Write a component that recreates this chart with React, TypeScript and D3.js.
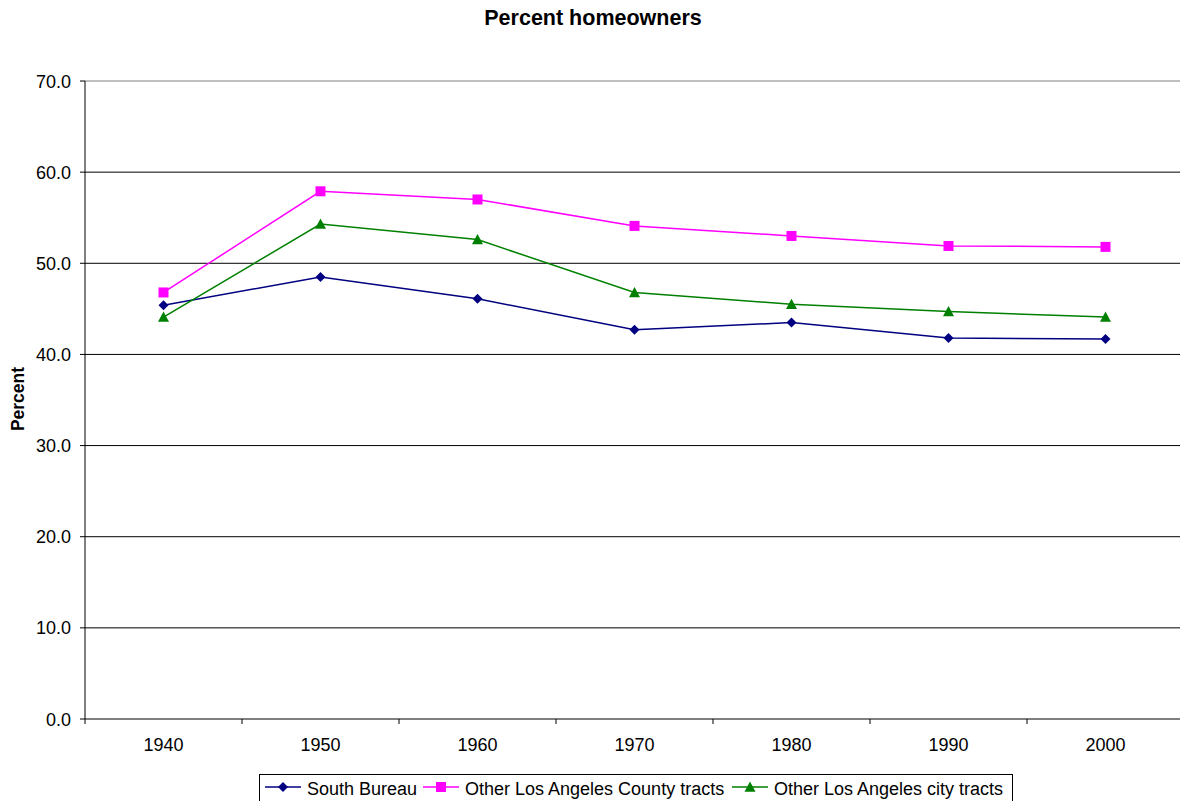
import React from "react";
import * as d3 from "d3";

const years = ["1940", "1950", "1960", "1970", "1980", "1990", "2000"];
const southBureau = [45.4, 48.5, 46.1, 42.7, 43.5, 41.8, 41.7];
const otherCounty = [46.8, 57.9, 57.0, 54.1, 53.0, 51.9, 51.8];
const otherCity = [44.1, 54.3, 52.6, 46.8, 45.5, 44.7, 44.1];
const yTicks = [0, 10, 20, 30, 40, 50, 60, 70];

const series = [
  { name: "South Bureau", values: southBureau, color: "#000080", marker: "diamond" },
  { name: "Other Los Angeles County tracts", values: otherCounty, color: "#FF00FF", marker: "square" },
  { name: "Other Los Angeles city tracts", values: otherCity, color: "#008000", marker: "triangle" },
];

const W = 1180, H = 801;
const left = 85, right = 1184, top = 81, bottom = 719;
const font = "'Liberation Sans', Arial, sans-serif";

function Marker({ type, x, y, color }: { type: string; x: number; y: number; color: string }) {
  if (type === "diamond") {
    const s = 5;
    return <path d={`M${x},${y - s}L${x + s},${y}L${x},${y + s}L${x - s},${y}Z`} fill={color} />;
  }
  if (type === "square") {
    const s = 5;
    return <rect x={x - s} y={y - s} width={2 * s} height={2 * s} fill={color} />;
  }
  const s = 5.5;
  return <path d={`M${x},${y - s}L${x + s},${y + s * 0.85}L${x - s},${y + s * 0.85}Z`} fill={color} />;
}

export default function App() {
  const x = d3.scaleBand<string>().domain(years).range([left, right]).padding(0);
  const y = d3.scaleLinear().domain([0, 70]).range([bottom, top]);
  const cx = (d: string) => (x(d) as number) + x.bandwidth() / 2;
  const line = d3
    .line<number>()
    .x((_, i) => cx(years[i]))
    .y((v) => y(v));

  const legendItems = [
    { lx: 265, tx: 307 },
    { lx: 423, tx: 465 },
    { lx: 732, tx: 774 },
  ];

  return (
    <svg width={W} height={H} style={{ position: "absolute", left: 0, top: 0 }} fontFamily={font}>
      <rect width={W} height={H} fill="#fff" />
      <text x={593} y={25} textAnchor="middle" fontSize={21.5} fontWeight="bold">
        Percent homeowners
      </text>
      {yTicks.map((t) => (
        <g key={t}>
          {t > 0 && (
            <line x1={left} x2={W} y1={y(t)} y2={y(t)} stroke={t === 70 ? "#808080" : "#000"} strokeWidth={1} />
          )}
          <line x1={left - 5} x2={left} y1={y(t)} y2={y(t)} stroke="#000" />
          <text x={71} y={y(t) + 6.5} textAnchor="end" fontSize={18}>
            {t.toFixed(1)}
          </text>
        </g>
      ))}
      <line x1={left} x2={left} y1={top} y2={bottom} stroke="#000" />
      <line x1={left} x2={W} y1={bottom} y2={bottom} stroke="#000" />
      {years.map((yr) => (
        <line key={"t" + yr} x1={x(yr) as number} x2={x(yr) as number} y1={bottom} y2={bottom + 5} stroke="#000" />
      ))}
      {years.map((yr) => (
        <text key={"l" + yr} x={cx(yr)} y={751} textAnchor="middle" fontSize={18}>
          {yr}
        </text>
      ))}
      <text transform={`translate(24,399) rotate(-90)`} textAnchor="middle" fontSize={17.5} fontWeight="bold">
        Percent
      </text>
      {series.map((s) => (
        <g key={s.name}>
          <path d={line(s.values) as string} fill="none" stroke={s.color} strokeWidth={1.5} />
          {s.values.map((v, i) => (
            <Marker key={i} type={s.marker} x={cx(years[i])} y={y(v)} color={s.color} />
          ))}
        </g>
      ))}
      <rect x={259.5} y={774.5} width={753} height={28} fill="#fff" stroke="#000" />
      {series.map((s, i) => (
        <g key={"lg" + s.name}>
          <line x1={legendItems[i].lx} x2={legendItems[i].lx + 36} y1={787} y2={787} stroke={s.color} strokeWidth={1.5} />
          <Marker type={s.marker} x={legendItems[i].lx + 18} y={787} color={s.color} />
          <text x={legendItems[i].tx} y={795} fontSize={18}>
            {s.name}
          </text>
        </g>
      ))}
    </svg>
  );
}
